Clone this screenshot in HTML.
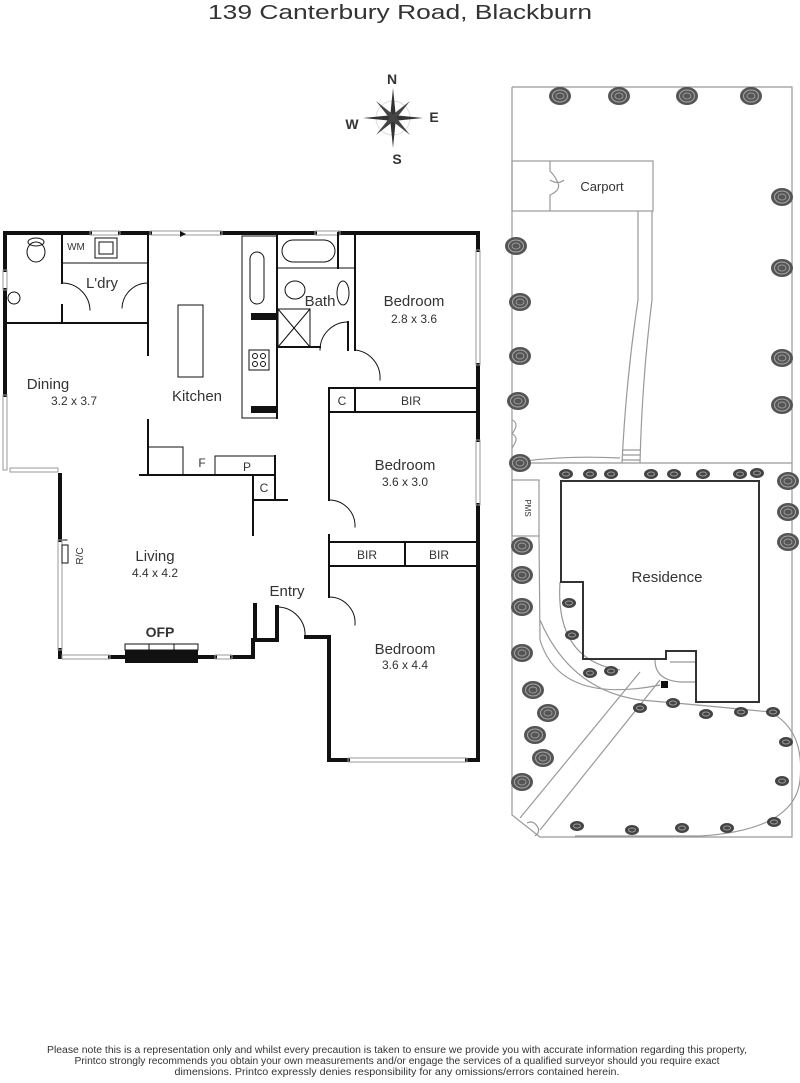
<!DOCTYPE html>
<html><head><meta charset="utf-8"><style>
html,body{margin:0;padding:0;background:#fff;}
svg{display:block;}
text{font-family:"Liberation Sans",sans-serif;fill:#333;}
</style></head><body>
<svg width="800" height="1083" viewBox="0 0 800 1083" xmlns="http://www.w3.org/2000/svg">
<defs>
<g id="tr"><ellipse rx="11" ry="9" fill="#555"/><ellipse rx="7.5" ry="6" fill="none" stroke="#aaa" stroke-width="1"/><ellipse rx="4" ry="3" fill="none" stroke="#999" stroke-width="1"/></g>
<g id="ts"><ellipse rx="7" ry="5" fill="#444"/><ellipse rx="3.5" ry="2" fill="none" stroke="#999" stroke-width="1"/></g>
</defs>
<text x="400" y="19" font-size="20" text-anchor="middle" fill="#444" textLength="384" lengthAdjust="spacingAndGlyphs">139 Canterbury Road, Blackburn</text>

<!-- compass -->
<g transform="translate(393,118)">
<circle r="17" fill="none" stroke="#ddd"/>
<polygon points="0,-30 3,0 0,30 -3,0" fill="#333"/>
<polygon points="-30,0 0,-3 30,0 0,3" fill="#333"/>
<polygon points="-17,-17 2,-2 17,17 -2,2" fill="#444"/>
<polygon points="17,-17 2,2 -17,17 -2,-2" fill="#444"/>
</g>
<text x="392" y="84" font-size="14" font-weight="bold" text-anchor="middle">N</text>
<text x="397" y="164" font-size="14" font-weight="bold" text-anchor="middle">S</text>
<text x="352" y="129" font-size="14" font-weight="bold" text-anchor="middle">W</text>
<text x="434" y="122" font-size="14" font-weight="bold" text-anchor="middle">E</text>

<!-- FLOOR PLAN -->
<g fill="none" stroke="#111" stroke-linecap="square">
<g stroke-width="4">
<polyline points="5,270 5,233 90,233"/>
<polyline points="120,233 150,233"/>
<polyline points="222,233 315,233"/>
<polyline points="340,233 478,233 478,250"/>
<line x1="478" y1="365" x2="478" y2="440"/>
<line x1="478" y1="505" x2="478" y2="760"/>
<polyline points="5,290 5,395"/>
<line x1="60" y1="475" x2="60" y2="540"/>
<line x1="60" y1="650" x2="60" y2="657"/>
<polyline points="110,657 125,657"/>
<polyline points="198,657 215,657"/>
<polyline points="232,657 253,657 253,640 277,640"/>
<polyline points="255,605 255,640"/>
<polyline points="277,607 277,640"/>
<polyline points="306,637 329,637 329,760 348,760"/>
<line x1="467" y1="760" x2="478" y2="760"/>
</g>
<g stroke="#999" stroke-width="1">
<rect x="90" y="231" width="30" height="4"/>
<rect x="150" y="231" width="72" height="4"/>
<rect x="315" y="231" width="25" height="4"/>
<rect x="476" y="250" width="4" height="115"/>
<rect x="476" y="440" width="4" height="65"/>
<rect x="3" y="270" width="4" height="20"/>
<rect x="3" y="395" width="4" height="75"/>
<rect x="10" y="468" width="48" height="4"/>
<rect x="58" y="540" width="4" height="110"/>
<rect x="62" y="655" width="48" height="4"/>
<rect x="215" y="655" width="17" height="4"/>
<rect x="348" y="758" width="119" height="4"/>
</g>
<g stroke-width="2">
<polyline points="5,323 148,323"/>
<line x1="148" y1="233" x2="148" y2="355"/>
<line x1="62" y1="233" x2="62" y2="283"/>
<line x1="62" y1="305" x2="62" y2="323"/>
<line x1="148" y1="420" x2="148" y2="475"/>
<line x1="140" y1="475" x2="275" y2="475"/>
<line x1="275" y1="456" x2="275" y2="500"/>
<line x1="253" y1="475" x2="253" y2="535"/>
<line x1="253" y1="500" x2="287" y2="500"/>
<line x1="355" y1="233" x2="355" y2="350"/>
<line x1="329" y1="388" x2="478" y2="388"/>
<line x1="329" y1="388" x2="329" y2="500"/>
<line x1="329" y1="535" x2="329" y2="597"/>
<line x1="329" y1="542" x2="478" y2="542"/>
<line x1="329" y1="566" x2="478" y2="566"/>
<line x1="405" y1="542" x2="405" y2="566"/>
<line x1="329" y1="412" x2="478" y2="412"/>
<line x1="355" y1="388" x2="355" y2="412"/>
<line x1="277" y1="233" x2="277" y2="418"/>
<line x1="277" y1="347" x2="320" y2="347"/>
<line x1="348" y1="322" x2="348" y2="350"/>
<line x1="338" y1="233" x2="338" y2="268"/>
</g>
<g stroke-width="1">
<rect x="242" y="236" width="35" height="182"/>
<line x1="62" y1="263" x2="148" y2="263"/>
<rect x="95" y="238" width="22" height="20"/>
<rect x="99" y="242" width="14" height="12"/>
<rect x="178" y="305" width="25" height="72"/>
<polyline points="148,447 183,447 183,475"/>
<polyline points="215,475 215,456 275,456"/>
<rect x="282" y="240" width="53" height="22" rx="11"/>
<line x1="277" y1="268" x2="355" y2="268"/>
<rect x="278" y="309" width="32" height="38"/>
<line x1="278" y1="309" x2="310" y2="347"/>
<line x1="310" y1="309" x2="278" y2="347"/>
<ellipse cx="36" cy="252" rx="9" ry="10"/>
<ellipse cx="36" cy="242" rx="8" ry="4"/>
<ellipse cx="14" cy="298" rx="6" ry="6"/>
<rect x="250" y="252" width="14" height="52" rx="7"/>
<rect x="249" y="350" width="20" height="20"/>
<circle cx="255" cy="356" r="2.5"/><circle cx="263" cy="356" r="2.5"/>
<circle cx="255" cy="364" r="2.5"/><circle cx="263" cy="364" r="2.5"/>
<ellipse cx="295" cy="290" rx="10" ry="9"/>
<ellipse cx="343" cy="293" rx="6" ry="12"/>
<path d="M62,283 A28,28 0 0 1 90,310"/>
<path d="M148,283 A26,26 0 0 0 122,308"/>
<path d="M348,322 A28,28 0 0 0 320,350"/>
<path d="M355,350 A28,28 0 0 1 380,380"/>
<path d="M329,500 A26,26 0 0 1 355,527"/>
<path d="M329,597 A26,26 0 0 1 355,625"/>
<path d="M277,607 A28,28 0 0 1 305,637"/>
<line x1="63" y1="540" x2="67" y2="540"/><rect x="62" y="545" width="6" height="18"/>
</g>
</g>
<rect x="251" y="313" width="26" height="7" fill="#111"/>
<rect x="251" y="406" width="26" height="7" fill="#111"/>
<rect x="125" y="650" width="73" height="13" fill="#111"/>
<rect x="125" y="644" width="73" height="6" fill="#fff" stroke="#111"/>
<line x1="149" y1="644" x2="149" y2="650" stroke="#111"/>
<line x1="174" y1="644" x2="174" y2="650" stroke="#111"/>
<polygon points="180,231 186,234 180,237" fill="#111"/>

<g font-size="15" text-anchor="middle">
<text x="102" y="288">L'dry</text>
<text x="320" y="306">Bath</text>
<text x="414" y="306">Bedroom</text>
<text x="48" y="389">Dining</text>
<text x="197" y="401">Kitchen</text>
<text x="405" y="470">Bedroom</text>
<text x="155" y="561">Living</text>
<text x="287" y="596">Entry</text>
<text x="405" y="654">Bedroom</text>
</g>
<g font-size="12" text-anchor="middle" fill="#444">
<text x="414" y="323">2.8 x 3.6</text>
<text x="74" y="405">3.2 x 3.7</text>
<text x="405" y="486">3.6 x 3.0</text>
<text x="155" y="577">4.4 x 4.2</text>
<text x="405" y="669">3.6 x 4.4</text>
<text x="411" y="405">BIR</text>
<text x="342" y="405">C</text>
<text x="367" y="559">BIR</text>
<text x="439" y="559">BIR</text>
<text x="202" y="467">F</text>
<text x="247" y="471">P</text>
<text x="264" y="492">C</text>
<text x="76" y="250" font-size="10">WM</text>
</g>
<text x="160" y="637" font-size="14" font-weight="bold" text-anchor="middle" fill="#111">OFP</text>
<text transform="translate(83,556) rotate(-90)" font-size="10" text-anchor="middle">R/C</text>

<!-- SITE PLAN -->
<g fill="none" stroke="#999" stroke-width="1.2">
<polyline points="512,87 792,87 792,837 540,837 512,815 512,87"/>
<rect x="512" y="161" width="141" height="50"/>
<path d="M550,161 v10 q5,5 8,12 q3,7 -8,12 v16 M550,180 q8,5 14,0"/>
<line x1="512" y1="463" x2="792" y2="463"/>
<path d="M638,211 L638,300 Q626,380 622,463"/>
<path d="M652,211 L652,300 Q642,380 640,463"/>
<line x1="622" y1="450" x2="640" y2="450"/><line x1="622" y1="455" x2="640" y2="455"/><line x1="622" y1="460" x2="640" y2="460"/>
<path d="M512,463 Q560,455 620,458"/>
<path d="M512,420 q8,3 0,14 q8,3 0,14"/>
<rect x="512" y="480" width="27" height="56"/>
<path d="M539,536 L540,640 Q560,705 660,685"/>
<path d="M560,582 Q555,660 620,670"/>
<path d="M540,620 Q570,690 640,700 Q700,705 770,712 Q805,730 800,780 Q795,830 700,836 L575,836"/>
<path d="M520,818 L640,672 M540,830 L660,680"/>
<path d="M527,823 q6,-3 10,3 q4,6 -2,10"/>
<path d="M655,660 Q655,680 680,682 L696,682"/>
<line x1="670" y1="662" x2="696" y2="662"/>
</g>
<polygon points="561,481 759,481 759,702 696,702 696,651 666,651 666,659 583,659 583,582 561,582" fill="none" stroke="#333" stroke-width="2"/>
<rect x="661" y="681" width="7" height="7" fill="#111"/>
<text x="667" y="582" font-size="15" text-anchor="middle">Residence</text>
<text x="602" y="191" font-size="13" text-anchor="middle">Carport</text>
<text transform="translate(525,508) rotate(90)" font-size="8" text-anchor="middle">PMS</text>

<use href="#tr" x="560" y="96"/><use href="#tr" x="619" y="96"/><use href="#tr" x="687" y="96"/><use href="#tr" x="751" y="96"/>
<use href="#tr" x="782" y="197"/><use href="#tr" x="782" y="268"/><use href="#tr" x="782" y="358"/><use href="#tr" x="782" y="405"/>
<use href="#tr" x="788" y="481"/><use href="#tr" x="788" y="512"/><use href="#tr" x="788" y="542"/>
<use href="#tr" x="516" y="246"/><use href="#tr" x="520" y="302"/><use href="#tr" x="520" y="356"/><use href="#tr" x="518" y="401"/><use href="#tr" x="520" y="463"/>
<use href="#tr" x="522" y="546"/><use href="#tr" x="522" y="575"/><use href="#tr" x="522" y="607"/><use href="#tr" x="522" y="653"/>
<use href="#tr" x="533" y="690"/><use href="#tr" x="548" y="713"/><use href="#tr" x="535" y="735"/><use href="#tr" x="543" y="758"/><use href="#tr" x="522" y="782"/>
<use href="#ts" x="566" y="474"/><use href="#ts" x="590" y="474"/><use href="#ts" x="611" y="474"/><use href="#ts" x="651" y="474"/><use href="#ts" x="674" y="474"/><use href="#ts" x="703" y="474"/><use href="#ts" x="740" y="474"/><use href="#ts" x="757" y="473"/>
<use href="#ts" x="569" y="603"/><use href="#ts" x="572" y="635"/><use href="#ts" x="590" y="673"/><use href="#ts" x="611" y="671"/>
<use href="#ts" x="640" y="708"/><use href="#ts" x="673" y="703"/><use href="#ts" x="706" y="714"/><use href="#ts" x="741" y="712"/><use href="#ts" x="773" y="712"/>
<use href="#ts" x="786" y="742"/><use href="#ts" x="782" y="781"/><use href="#ts" x="774" y="822"/>
<use href="#ts" x="577" y="826"/><use href="#ts" x="632" y="830"/><use href="#ts" x="682" y="828"/><use href="#ts" x="727" y="828"/>

<g font-size="10" text-anchor="middle" fill="#333">
<text x="397" y="1053" textLength="700" lengthAdjust="spacingAndGlyphs">Please note this is a representation only and whilst every precaution is taken to ensure we provide you with accurate information regarding this property,</text>
<text x="397" y="1064" textLength="645" lengthAdjust="spacingAndGlyphs">Printco strongly recommends you obtain your own measurements and/or engage the services of a qualified surveyor should you require exact</text>
<text x="397" y="1075" textLength="445" lengthAdjust="spacingAndGlyphs">dimensions. Printco expressly denies responsibility for any omissions/errors contained herein.</text>
</g>
</svg>
</body></html>
